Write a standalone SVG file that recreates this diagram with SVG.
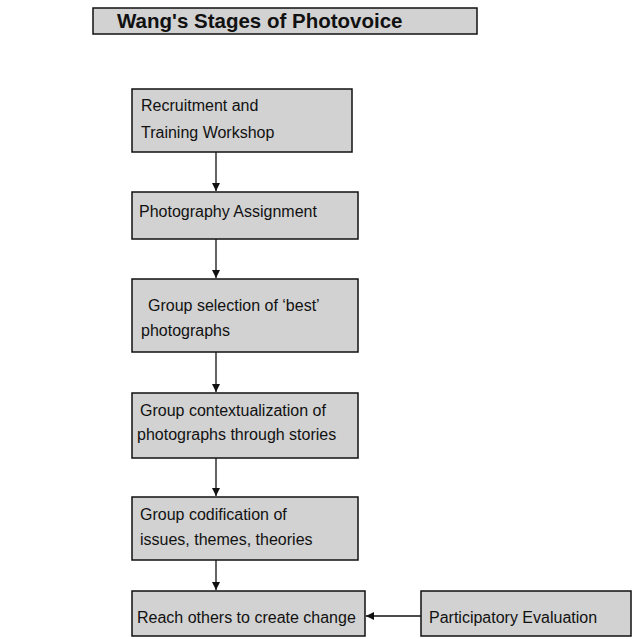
<svg xmlns="http://www.w3.org/2000/svg" width="632" height="639" viewBox="0 0 632 639">
<style>
.box{fill:#d2d2d2;stroke:#111;stroke-width:1.5}
.t{font-family:"Liberation Sans",Arial,sans-serif;font-size:16px;fill:#111}
.title{font-family:"Liberation Sans",Arial,sans-serif;font-size:20.5px;font-weight:bold;fill:#111}
.c{stroke:#111;stroke-width:1.3;fill:none}
</style>
<defs>
<marker id="ah" viewBox="0 0 10 10" refX="10" refY="5" markerWidth="8" markerHeight="8" markerUnits="userSpaceOnUse" orient="auto">
<path d="M0,0 L10,5 L0,10 z" fill="#111"/>
</marker>
</defs>
<rect width="632" height="639" fill="#fff"/>
<g id="title">
<rect class="box" x="93" y="8" width="384" height="26"/>
<text class="title" x="117" y="28">Wang's Stages of Photovoice</text>
</g>
<g id="n1">
<rect class="box" x="132" y="89" width="220" height="63"/>
<text class="t" x="141" y="111">Recruitment and</text>
<text class="t" x="141" y="138">Training Workshop</text>
</g>
<g id="n2">
<rect class="box" x="132" y="192" width="226" height="47"/>
<text class="t" x="139" y="217">Photography Assignment</text>
</g>
<g id="n3">
<rect class="box" x="132" y="279" width="226" height="73"/>
<text class="t" x="148" y="311">Group selection of ‘best’</text>
<text class="t" x="141" y="336">photographs</text>
</g>
<g id="n4">
<rect class="box" x="132" y="393" width="226" height="65"/>
<text class="t" x="140" y="416">Group contextualization of</text>
<text class="t" x="137" y="440">photographs through stories</text>
</g>
<g id="n5">
<rect class="box" x="132" y="497" width="226" height="63"/>
<text class="t" x="140" y="520">Group codification of</text>
<text class="t" x="140" y="545">issues, themes, theories</text>
</g>
<g id="n6">
<rect class="box" x="132" y="591" width="233" height="45"/>
<text class="t" x="137" y="623">Reach others to create change</text>
</g>
<g id="n7">
<rect class="box" x="421" y="591" width="210" height="45"/>
<text class="t" x="429" y="623">Participatory Evaluation</text>
</g>
<g id="connectors">
<line class="c" x1="216" y1="152" x2="216" y2="191" marker-end="url(#ah)"/>
<line class="c" x1="216" y1="239" x2="216" y2="278" marker-end="url(#ah)"/>
<line class="c" x1="216" y1="352" x2="216" y2="392" marker-end="url(#ah)"/>
<line class="c" x1="216" y1="458" x2="216" y2="496" marker-end="url(#ah)"/>
<line class="c" x1="216" y1="560" x2="216" y2="590" marker-end="url(#ah)"/>
<line class="c" x1="421" y1="616" x2="366" y2="616" marker-end="url(#ah)"/>
</g>
</svg>
